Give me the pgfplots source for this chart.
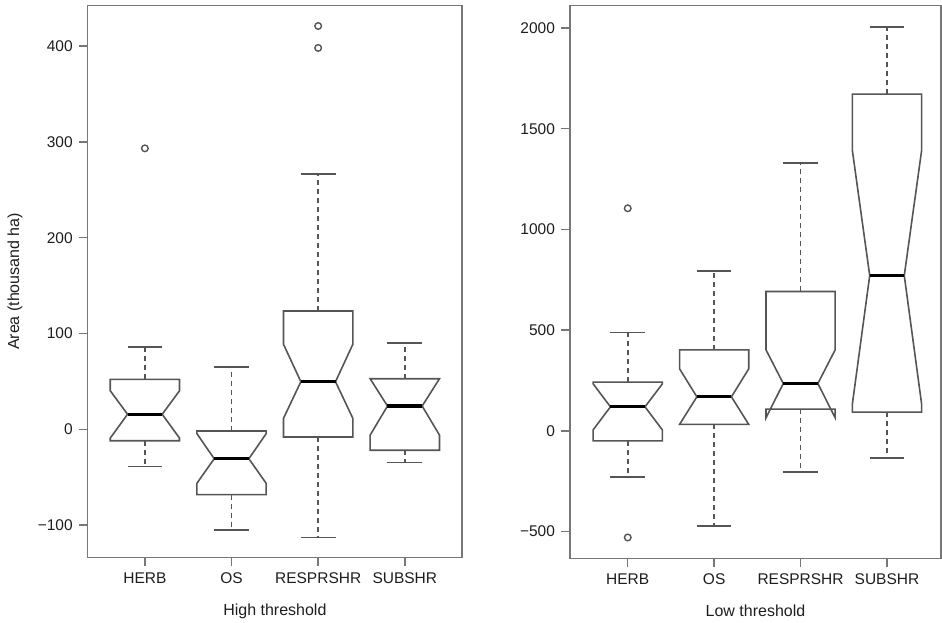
\documentclass[border=0pt]{standalone}
\usepackage{pgfplots}
\pgfplotsset{compat=1.18}
\usepackage{fontspec}
\setmainfont{Liberation Sans}
\definecolor{boxgray}{HTML}{555555}
\definecolor{axgray}{HTML}{777777}
\definecolor{txt}{HTML}{1E1E1E}
\begin{document}
\begin{tikzpicture}
\path[use as bounding box] (0pt,0pt) rectangle (942pt,622pt);
\pgfplotsset{
  every axis/.append style={
    scale only axis,
    axis line style={axgray, line width=1.4pt},
    every tick/.style={axgray, line width=1.4pt},
    major tick length=9pt,
    tick align=outside,
    xtick pos=lower, ytick pos=left,
    tick label style={font=\fontsize{15.5}{18}\selectfont, text=txt},
    xticklabel style={yshift=-3pt},
    yticklabel style={xshift=-2.5pt},
    label style={font=\fontsize{16}{19}\selectfont, text=txt},
    xtick={1,2,3,4},
    xticklabels={HERB,OS,RESPRSHR,SUBSHR},
    xlabel style={at={(axis description cs:0.5,0)}, anchor=base, yshift=-57.7pt},
  },
  bx/.style={boxgray, line width=1.6pt, line join=miter},
  md/.style={black, line width=3.2pt},
  wk/.style={boxgray, line width=1.6pt, dash pattern=on 5pt off 4pt},
  st/.style={boxgray, line width=1.6pt},
  ol/.style={boxgray, only marks, mark=o, mark size=3.3pt, mark options={line width=1.4pt}},
}
% ---------------- High threshold ----------------
\begin{axis}[at={(87.7pt,64.7pt)}, anchor=south west, width=374.3pt, height=551.6pt,
  xmin=0.34, xmax=4.66, ymin=-133.6, ymax=442.2,
  ytick={-100,0,100,200,300,400},
  yticklabels={−100,0,100,200,300,400},
  xlabel={High threshold},
  ylabel={Area (thousand ha)},
  ylabel style={at={(axis description cs:-0.194,0.5)}, anchor=center}]
% HERB
\addplot[wk] coordinates {(1,52.2) (1,86.2)};
\addplot[wk] coordinates {(1,-11.9) (1,-39.0)};
\addplot[st] coordinates {(0.8,86.2) (1.2,86.2)};
\addplot[st] coordinates {(0.8,-39.0) (1.2,-39.0)};
\addplot[bx] coordinates {(0.6,-11.9) (0.6,-9.2) (0.8,15.7) (0.6,40.3) (0.6,52.2) (1.4,52.2) (1.4,40.3) (1.2,15.7) (1.4,-9.2) (1.4,-11.9)} -- cycle;
\addplot[md] coordinates {(0.8,15.7) (1.2,15.7)};
% OS
\addplot[wk] coordinates {(2,-1.8) (2,65.3)};
\addplot[wk] coordinates {(2,-68.2) (2,-105.1)};
\addplot[st] coordinates {(1.8,65.3) (2.2,65.3)};
\addplot[st] coordinates {(1.8,-105.1) (2.2,-105.1)};
\addplot[bx] coordinates {(1.6,-68.2) (1.6,-56.4) (1.8,-30.7) (1.6,-4.5) (1.6,-1.8) (2.4,-1.8) (2.4,-4.5) (2.2,-30.7) (2.4,-56.4) (2.4,-68.2)} -- cycle;
\addplot[md] coordinates {(1.8,-30.7) (2.2,-30.7)};
% RESPRSHR
\addplot[wk] coordinates {(3,123.5) (3,266.5)};
\addplot[wk] coordinates {(3,-8.0) (3,-113.1)};
\addplot[st] coordinates {(2.8,266.5) (3.2,266.5)};
\addplot[st] coordinates {(2.8,-113.1) (3.2,-113.1)};
\addplot[bx] coordinates {(2.6,-8.0) (2.6,11.5) (2.8,49.7) (2.6,88.7) (2.6,123.5) (3.4,123.5) (3.4,88.7) (3.2,49.7) (3.4,11.5) (3.4,-8.0)} -- cycle;
\addplot[md] coordinates {(2.8,49.7) (3.2,49.7)};
% SUBSHR
\addplot[wk] coordinates {(4,52.8) (4,90.4)};
\addplot[wk] coordinates {(4,-21.9) (4,-34.8)};
\addplot[st] coordinates {(3.8,90.4) (4.2,90.4)};
\addplot[st] coordinates {(3.8,-34.8) (4.2,-34.8)};
\addplot[bx] coordinates {(3.6,-21.9) (3.6,-6.0) (3.8,24.3) (3.6,52.8) (4.4,52.8) (4.2,24.3) (4.4,-6.0) (4.4,-21.9)} -- cycle;
\addplot[md] coordinates {(3.8,24.3) (4.2,24.3)};
% outliers
\addplot[ol] coordinates {(1,293.3) (3,398.1) (3,421.0)};
\end{axis}
% ---------------- Low threshold ----------------
\begin{axis}[at={(570pt,63.7pt)}, anchor=south west, width=371pt, height=553pt,
  xmin=0.332, xmax=4.625, ymin=-633, ymax=2113,
  ytick={-500,0,500,1000,1500,2000},
  yticklabels={−500,0,500,1000,1500,2000},
  xlabel={Low threshold}]
% HERB
\addplot[wk] coordinates {(1,241.8) (1,488)};
\addplot[wk] coordinates {(1,-49.7) (1,-228.4)};
\addplot[st] coordinates {(0.8,488) (1.2,488)};
\addplot[st] coordinates {(0.8,-228.4) (1.2,-228.4)};
\addplot[bx] coordinates {(0.6,-49.7) (0.6,5) (0.8,119.2) (0.6,233) (0.6,241.8) (1.4,241.8) (1.4,233) (1.2,119.2) (1.4,5) (1.4,-49.7)} -- cycle;
\addplot[md] coordinates {(0.8,119.2) (1.2,119.2)};
% OS
\addplot[wk] coordinates {(2,402.2) (2,792.5)};
\addplot[wk] coordinates {(2,32) (2,-471.7)};
\addplot[st] coordinates {(1.8,792.5) (2.2,792.5)};
\addplot[st] coordinates {(1.8,-471.7) (2.2,-471.7)};
\addplot[bx] coordinates {(1.6,32) (1.8,168.8) (1.6,307.8) (1.6,402.2) (2.4,402.2) (2.4,307.8) (2.2,168.8) (2.4,32)} -- cycle;
\addplot[md] coordinates {(1.8,168.8) (2.2,168.8)};
% RESPRSHR
\addplot[wk] coordinates {(3,692) (3,1331)};
\addplot[wk] coordinates {(3,107.6) (3,-205)};
\addplot[st] coordinates {(2.8,1331) (3.2,1331)};
\addplot[st] coordinates {(2.8,-205) (3.2,-205)};
\addplot[bx] coordinates {(2.6,107.6) (2.6,65) (2.8,235) (2.6,402) (2.6,692) (3.4,692) (3.4,402) (3.2,235) (3.4,65) (3.4,107.6)} -- cycle;
\addplot[md] coordinates {(2.8,235) (3.2,235)};
% SUBSHR
\addplot[wk] coordinates {(4,1671.6) (4,2006)};
\addplot[wk] coordinates {(4,92.7) (4,-134)};
\addplot[st] coordinates {(3.8,2006) (4.2,2006)};
\addplot[st] coordinates {(3.8,-134) (4.2,-134)};
\addplot[bx] coordinates {(3.6,92.7) (3.6,135) (3.8,771) (3.6,1390) (3.6,1671.6) (4.4,1671.6) (4.4,1390) (4.2,771) (4.4,135) (4.4,92.7)} -- cycle;
\addplot[md] coordinates {(3.8,771) (4.2,771)};
% outliers
\addplot[ol] coordinates {(1,-529.6) (1,1105)};
\end{axis}
\end{tikzpicture}
\end{document}
